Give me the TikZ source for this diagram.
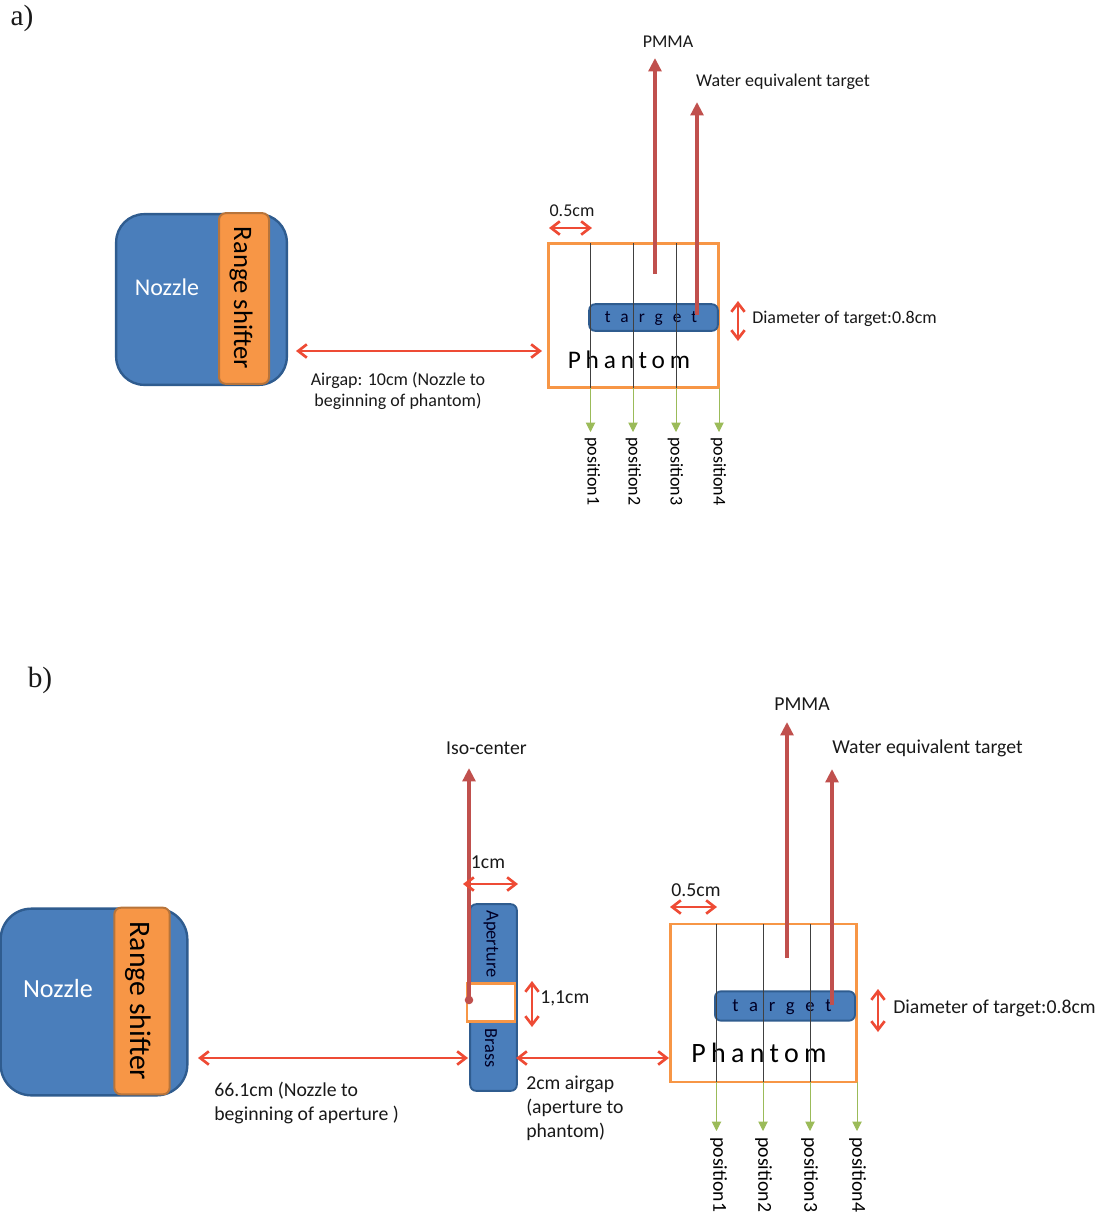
\documentclass[tikz,border=0pt]{standalone}
\usepackage{fontspec}
\setmainfont{Carlito}
\newfontfamily\panelfont{Liberation Serif}
\usetikzlibrary{arrows.meta}
\definecolor{boxblue}{HTML}{4A7EBB}
\definecolor{boxedge}{HTML}{2F5C8F}
\definecolor{shifter}{HTML}{F79646}
\definecolor{shifteredge}{HTML}{B8743A}
\definecolor{barred}{HTML}{C0504D}
\definecolor{dimred}{HTML}{EE4B35}
\definecolor{posgreen}{HTML}{9BBB59}
\tikzset{
  x=0.75pt,y=-0.75pt,
  nozzlebox/.style={draw=boxedge,line width=1.8pt,fill=boxblue,inner sep=0pt},
  shifterbox/.style={draw=shifteredge,line width=1.5pt,fill=shifter,inner sep=0pt,rounded corners=5pt},
  bluebox/.style={draw=boxedge,line width=1.4pt,fill=boxblue,inner sep=0pt,rounded corners=4.5pt},
  phantombox/.style={draw=shifter,line width=2.2pt,inner sep=0pt},
  label/.style={inner sep=0pt,align=left,text=black!90},
  dimarrow/.style={draw=dimred,line width=2pt,{Straight Barb[length=6.5pt,width=10pt]}-{Straight Barb[length=6.5pt,width=10pt]}},
  bararrow/.style={draw=barred,line width=3.2pt,-{Triangle[length=10pt,width=9.5pt]}},
  posline/.style={draw=black!75,line width=0.7pt},
  posarrow/.style={draw=posgreen,line width=0.7pt,-{Triangle[length=7pt,width=7pt]}},
}
\begin{document}
\begin{tikzpicture}
\useasboundingbox (0,0) rectangle (1105,1215);
\node[label,font=\panelfont\fontsize{22}{26}\selectfont] (pa) at (22,18) {a)};
\node[label,font=\panelfont\fontsize{22}{26}\selectfont] (pb) at (40,680) {b)};

% ---------- panel a
\begin{scope}[font=\fontsize{13.5}{15.8}\selectfont]
\node[nozzlebox,minimum width=128pt,minimum height=128pt,rounded corners=21pt] (an) at (201.5,299.5) {};
\node[inner sep=0pt,text=white,font=\fontsize{18}{20}\selectfont] (ant) at (167,287) {Nozzle};
\node[shifterbox,minimum width=37.5pt,minimum height=128pt] (as) at (244,298.5) {};
\node[rotate=-90,font=\fontsize{20}{22}\selectfont,inner sep=0pt] (ast) at (241,298) {Range shifter};
\node[phantombox,minimum width=128pt,minimum height=108.5pt] (ap) at (633.5,315.5) {};
\node[inner sep=0pt,font=\fontsize{19}{21}\selectfont\addfontfeature{LetterSpace=19}] (apt) at (629,360) {Phantom};
\node[bluebox,minimum width=96.5pt,minimum height=20pt] (at) at (653.5,317.5) {};
\node[inner sep=0pt,text=black!85!blue,font=\fontsize{13}{15}\selectfont\addfontfeature{LetterSpace=58}] (att) at (651,319) {target};
\foreach \n/\x in {1/590.5,2/633,3/676}{
  \coordinate (a\n t) at (\x,243);
  \coordinate (a\n b) at (\x,388);
  \coordinate (a\n e) at (\x,432);
  \draw[posline] (a\n t) -- (a\n b);
  \draw[posarrow] (a\n b) -- (a\n e);
}
\coordinate (a4b) at (719,388); \coordinate (a4e) at (719,432);
\draw[posarrow] (a4b) -- (a4e);
\foreach \n/\x in {1/592.5,2/633.5,3/675.5,4/718.5}{
  \node[rotate=-90,anchor=west,inner sep=0pt,font=\fontsize{13.5}{15}\selectfont] (a\n l) at (\x,437) {position\n};
}
\node[label] (apm) at (668,42) {PMMA};
\node[label] (awe) at (783,82) {Water equivalent target};
\coordinate (apms) at (655,274); \coordinate (apme) at (655,58);
\coordinate (awes) at (697,315); \coordinate (awee) at (697,102);
\draw[bararrow] (apms) -- (apme);
\draw[bararrow] (awes) -- (awee);
\node[label] (a05) at (572,211) {0.5cm};
\coordinate (a05l) at (549,228); \coordinate (a05r) at (592,228);
\draw[dimarrow] (a05l) -- (a05r);
\node[label,anchor=west] (adt) at (752,319) {Diameter of target:0.8cm};
\coordinate (adu) at (738,301); \coordinate (add) at (738,341);
\draw[dimarrow] (adu) -- (add);
\coordinate (agl) at (296,351); \coordinate (agr) at (542,351);
\draw[dimarrow] (agl) -- (agr);
\node[label,align=center] (agt) at (398,391) {Airgap: 10cm (Nozzle to\\beginning of phantom)};
\end{scope}

% ---------- panel b
\begin{scope}[font=\fontsize{14.8}{18}\selectfont]
\node[nozzlebox,minimum width=140pt,minimum height=140pt,rounded corners=23pt] (bn) at (94,1002) {};
\node[inner sep=0pt,text=white,font=\fontsize{19.6}{22}\selectfont] (bnt) at (58,989) {Nozzle};
\node[shifterbox,minimum width=41.5pt,minimum height=140pt] (bs) at (142,1001) {};
\node[rotate=-90,font=\fontsize{22.3}{24}\selectfont,inner sep=0pt] (bst) at (138,1001) {Range shifter};
\node[bluebox,minimum width=35pt,minimum height=140pt] (ba) at (493.5,997.5) {};
\node[phantombox,fill=white,minimum width=36pt,minimum height=28.5pt] (bw) at (491,1002.5) {};
\node[rotate=-90,inner sep=0pt,text=black!85!blue,font=\fontsize{13.8}{16}\selectfont] (bat) at (491,944) {Aperture};
\node[rotate=-90,inner sep=0pt,text=black!85!blue,font=\fontsize{13.8}{16}\selectfont] (bbt) at (491,1048) {Brass};
\node[phantombox,minimum width=140pt,minimum height=118.5pt] (bp) at (763.5,1003) {};
\node[inner sep=0pt,font=\fontsize{21}{23}\selectfont\addfontfeature{LetterSpace=19}] (bpt) at (759,1053) {Phantom};
\node[bluebox,minimum width=105pt,minimum height=22pt] (bt) at (785,1006) {};
\node[inner sep=0pt,text=black!85!blue,font=\fontsize{14}{16}\selectfont\addfontfeature{LetterSpace=58}] (btt) at (782,1007) {target};
\foreach \n/\x in {1/716.5,2/763,3/810}{
  \coordinate (b\n t) at (\x,924);
  \coordinate (b\n b) at (\x,1082);
  \coordinate (b\n e) at (\x,1131);
  \draw[posline] (b\n t) -- (b\n b);
  \draw[posarrow] (b\n b) -- (b\n e);
}
\coordinate (b4b) at (857,1082); \coordinate (b4e) at (857,1131);
\draw[posarrow] (b4b) -- (b4e);
\foreach \n/\x in {1/718.5,2/763.5,3/809.5,4/857.5}{
  \node[rotate=-90,anchor=west,inner sep=0pt,font=\fontsize{14.8}{16}\selectfont] (b\n l) at (\x,1137) {position\n};
}
\node[label] (bpm) at (802,704) {PMMA};
\node[label] (bwe) at (927.5,748) {Water equivalent target};
\coordinate (bpms) at (787,958); \coordinate (bpme) at (787,722);
\coordinate (bwes) at (832,1005); \coordinate (bwee) at (832,769);
\draw[bararrow] (bpms) -- (bpme);
\draw[bararrow] (bwes) -- (bwee);
\node[label] (bic) at (486.5,748) {Iso-center};
\coordinate (bis) at (469,1000); \coordinate (bie) at (469,768);
\draw[bararrow] (bis) -- (bie);
\fill[barred] (bis) circle (3.2pt);
\node[label] (b1c) at (488,862) {1cm};
\coordinate (b1l) at (463,884); \coordinate (b1r) at (518,884);
\draw[dimarrow] (b1l) -- (b1r);
\node[label,anchor=west] (b11) at (540,998.5) {1,1cm};
\coordinate (b11u) at (532,981); \coordinate (b11d) at (532,1027);
\draw[dimarrow] (b11u) -- (b11d);
\node[label] (b05) at (696,890) {0.5cm};
\coordinate (b05l) at (670,907); \coordinate (b05r) at (717,907);
\draw[dimarrow] (b05l) -- (b05r);
\node[label,anchor=west] (bdt) at (893,1008) {Diameter of target:0.8cm};
\coordinate (bdu) at (878,989); \coordinate (bdd) at (878,1032);
\draw[dimarrow] (bdu) -- (bdd);
\coordinate (bgl) at (198,1058); \coordinate (bgr) at (468,1058);
\draw[dimarrow] (bgl) -- (bgr);
\coordinate (bhl) at (516,1058); \coordinate (bhr) at (669,1058);
\draw[dimarrow] (bhl) -- (bhr);
\node[label,anchor=north west] (bgt) at (214,1082) {66.1cm (Nozzle to\\beginning of aperture )};
\node[label,anchor=north west] (bht) at (526,1076) {2cm airgap\\(aperture to\\phantom)};
\end{scope}
\end{tikzpicture}
\end{document}
